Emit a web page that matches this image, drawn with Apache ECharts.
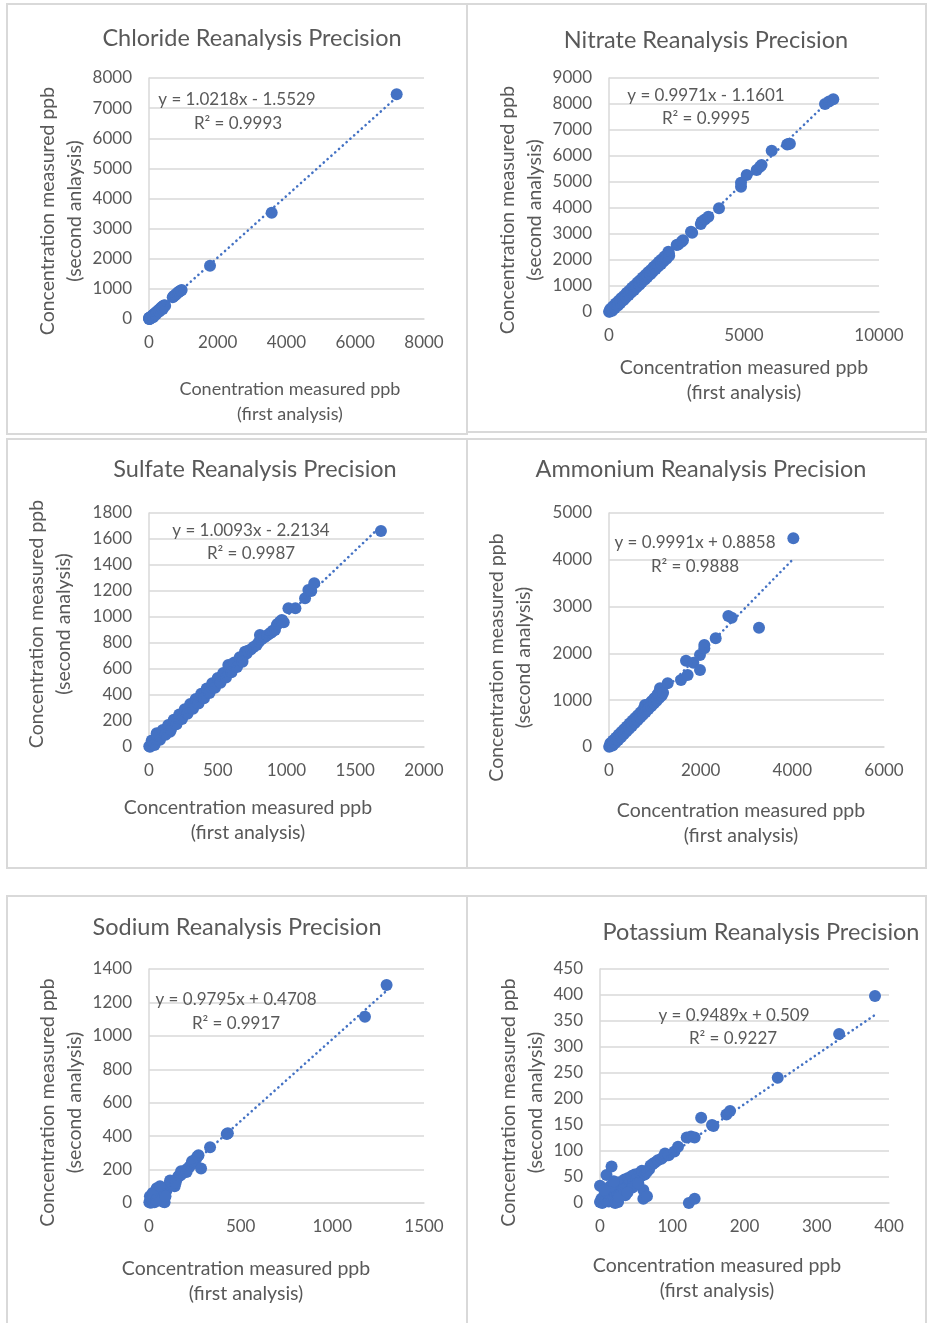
<!DOCTYPE html>
<html>
<head>
<meta charset="utf-8">
<script src="https://cdn.jsdelivr.net/npm/echarts@6/dist/echarts.min.js"></script>
<style>
html,body{margin:0;padding:0;background:#fff;}
#main{width:927px;height:1323px;}
</style>
</head>
<body>
<div id="main"></div>
<script>
// ---------- DATA ----------
const titles = ['Chloride Reanalysis Precision','Nitrate Reanalysis Precision','Sulfate Reanalysis Precision','Ammonium Reanalysis Precision','Sodium Reanalysis Precision','Potassium Reanalysis Precision'];
const equations = ['y = 1.0218x - 1.5529','y = 0.9971x - 1.1601','y = 1.0093x - 2.2134','y = 0.9991x + 0.8858','y = 0.9795x + 0.4708','y = 0.9489x + 0.509'];
const rSquared = ['R² = 0.9993','R² = 0.9995','R² = 0.9987','R² = 0.9888','R² = 0.9917','R² = 0.9227'];
const xNames = ['Conentration measured ppb\n(first analysis)','Concentration measured ppb\n(first analysis)','Concentration measured ppb\n(first analysis)','Concentration measured ppb\n(first analysis)','Concentration measured ppb\n(first analysis)','Concentration measured ppb\n(first analysis)'];
const yNames = ['Concentration measured ppb\n(second anlaysis)','Concentration measured ppb\n(second analysis)','Concentration measured ppb\n(second analysis)','Concentration measured ppb\n(second analysis)','Concentration measured ppb\n(second analysis)','Concentration measured ppb\n(second analysis)'];
const xMax = [8000,10000,2000,6000,1500,400];
const xInterval = [2000,5000,500,2000,500,100];
const yMax = [8000,9000,1800,5000,1400,450];
const yInterval = [1000,1000,200,1000,200,50];

const chloridePoints = [[5,3],[10,12],[15,8],[20,22],[25,20],[30,35],[40,38],[50,48],[60,65],[70,70],[80,85],[90,88],[100,105],[110,112],[120,118],[130,138],[140,142],[150,155],[165,170],[180,182],[200,205],[215,220],[230,238],[250,255],[270,272],[290,300],[310,315],[330,340],[350,360],[370,380],[390,405],[410,420],[430,440],[450,460],[470,440],[2,30],[8,45],[35,10],[45,60],[120,60],[200,150],[300,250],[400,330],[690,720],[720,760],[760,790],[800,840],[850,880],[880,910],[920,940],[950,960],[1775,1770],[3569,3529],[7205,7459]];
const chlorideTrend = [[0,-1.6],[7205,7360]];

const nitratePoints = [[5,8],[20,15],[40,45],[60,55],[80,85],[100,98],[130,135],[160,150],[190,195],[220,215],[250,260],[280,270],[310,318],[340,330],[370,378],[400,395],[430,440],[460,455],[500,505],[540,530],[580,590],[620,610],[660,668],[700,690],[740,752],[780,770],[820,830],[860,850],[900,912],[940,930],[980,995],[1020,1010],[1060,1070],[1100,1090],[1140,1155],[1180,1170],[1220,1230],[1260,1250],[1300,1310],[1340,1330],[1380,1395],[1420,1410],[1460,1470],[1500,1490],[1540,1555],[1580,1570],[1620,1630],[1660,1650],[1700,1710],[1740,1730],[1780,1795],[1820,1810],[1860,1870],[1900,1890],[1940,1955],[1980,1970],[2020,2040],[2060,2050],[2100,2130],[2150,2160],[2198,2320],[2220,2250],
  [50,120],[150,220],[250,330],[350,420],[450,530],[550,620],[650,730],[750,820],[850,930],[950,1020],[1050,1130],[1150,1220],[1250,1330],[1350,1420],[1450,1530],[1550,1620],[1650,1730],[1750,1820],[1850,1930],[1950,2020],[2050,2130],
  [120,50],[220,150],[330,250],[420,350],[530,450],[620,550],[730,650],[820,750],[930,850],[1020,950],[1130,1050],[1220,1150],[1330,1250],[1420,1350],[1530,1450],[1620,1550],[1730,1650],[1820,1750],[1930,1850],[2020,1950],[2130,2050],[2230,2160],
  [2506,2577],[2560,2600],[2691,2705],[2740,2760],[3037,3090],[3080,3050],[3432,3474],[3400,3380],[3550,3560],[3679,3667],[4074,3988],[4889,4820],[4889,4974],[5099,5269],[5469,5462],[5593,5590],[5650,5650],[6025,6204],[6600,6440],[6641,6462],[6700,6470],[8000,8000],[8150,8100],[8307,8181]];
const nitrateTrend = [[0,-1.2],[8307,8282]];

const sulfatePoints = [[2,5],[8,2],[15,20],[25,22],[35,40],[45,42],[55,60],[56,105],[70,75],[80,82],[90,95],[100,98],[110,115],[120,118],[135,138],[150,145],[153,118],[170,175],[185,182],[200,205],[215,212],[230,238],[245,240],[260,270],[275,272],[290,300],[305,302],[320,330],[335,332],[350,360],[365,362],[380,392],[395,390],[410,420],[425,422],[440,452],[455,450],[470,480],[485,482],[500,510],[515,512],[530,540],[545,542],[560,570],[577,631],[590,588],[605,615],[620,618],[635,645],[650,648],[665,675],[680,678],[698,733],[710,720],
  [20,50],[60,90],[100,130],[140,170],[180,210],[220,250],[260,290],[300,330],[340,370],[380,410],[420,450],[460,490],[500,530],[540,570],[580,610],[620,650],[660,690],
  [40,15],[80,55],[120,95],[160,135],[200,175],[240,215],[280,255],[320,295],[360,335],[400,375],[440,415],[480,455],[520,495],[560,535],[600,575],[640,615],[680,655],
  [720,740],[740,750],[760,770],[783,785],[800,810],[807,862],[820,830],[840,845],[860,860],[880,875],[890,880],[900,895],[916,900],[930,940],[940,950],[955,965],[966,977],[980,960],
  [1014,1067],[1065,1067],[1135,1144],[1159,1208],[1180,1200],[1202,1259],[1687,1662]];
const sulfateTrend = [[0,-2.2],[1687,1700]];

const ammoniumPoints = [[5,3],[15,20],[30,25],[50,55],[70,65],[90,95],[110,105],[135,140],[160,155],[185,190],[210,205],[235,245],[260,255],[290,295],[320,310],[350,360],[380,375],[410,420],[440,430],[470,480],[500,495],[530,545],[560,555],[590,600],[620,610],[650,665],[680,675],[710,725],[740,735],[770,790],[786,897],[800,800],[830,850],[860,845],[890,905],[920,900],[950,980],[980,960],[1010,1040],[1040,1020],
  [30,80],[90,140],[150,200],[210,260],[270,320],[330,380],[390,440],[450,500],[510,560],[570,620],[630,680],[690,740],[750,800],[810,860],[870,920],[930,980],[990,1040],[1050,1100],
  [80,30],[140,90],[200,150],[260,210],[320,270],[380,330],[440,390],[500,450],[560,510],[620,570],[680,630],[740,690],[800,750],[860,810],[920,870],[980,930],[1040,990],[1100,1050],
  [1076,1147],[1113,1254],[1150,1100],[1180,1160],[1280,1362],[1571,1432],[1716,1538],[1680,1845],[1840,1802],[1985,1966],[1985,1645],[2080,2108],[2080,2179],[2328,2322],[2604,2799],[2677,2763],[3273,2550],[4022,4459]];
const ammoniumTrend = [[0,0.9],[4022,4019]];

const sodiumPoints = [[2,5],[5,40],[8,20],[10,2],[15,30],[20,10],[25,45],[30,5],[35,60],[42,88],[45,25],[50,70],[55,40],[60,15],[65,80],[70,50],[75,30],[78,8],[80,60],[85,5],[95,75],[100,95],[110,110],[120,115],[133,107],[130,125],[140,100],[150,140],[160,160],[170,165],[180,175],[190,190],[200,195],[210,205],[220,215],[230,230],[240,240],[255,260],[263,277],[270,285],[284,207],[333,333],[424,413],[430,418],[1178,1115],[1296,1304],
  [20,60],[40,20],[60,100],[90,40],[115,135],[145,120],[175,190],[205,185],[235,250]];
const sodiumTrend = [[0,0.5],[1296,1270]];

const potassiumPoints = [[0,2],[2,8],[3,0],[5,12],[0,33],[8,5],[9,54],[10,20],[12,3],[15,15],[16,70],[18,25],[20,8],[21,0],[22,35],[24,18],[25,2],[27,40],[28,28],[30,22],[32,35],[34,45],[35,15],[37,30],[39,48],[40,38],[42,42],[44,52],[46,40],[48,55],[50,45],[52,50],[55,58],[57,52],[58,62],[60,8],[60,25],[62,55],[65,13],[65,60],[68,65],[70,72],[73,75],[76,78],[80,82],[85,85],[88,89],[90,95],[95,92],[103,99],[108,108],[120,126],[123,0],[126,128],[131,126],[131,8],[140,164],[155,150],[157,148],[175,170],[180,177],[246,241],[331,325],[380.6,398],
  [14,32],[26,12],[33,26],[45,30],[53,38],[6,25],[19,42],[38,20]];
const potassiumTrend = [[0,0.5],[380.6,361.7]];

const allPoints = [chloridePoints,nitratePoints,sulfatePoints,ammoniumPoints,sodiumPoints,potassiumPoints];
const allTrends = [chlorideTrend,nitrateTrend,sulfateTrend,ammoniumTrend,sodiumTrend,potassiumTrend];

// ---------- LAYOUT ----------
const FONT = 'Lato, "Open Sans", sans-serif';
const GREY = '#595959';
const BLUE = '#4472C4';
const grids = [
  {left:149, top:78, width:275, height:241},
  {left:609, top:78, width:270, height:234},
  {left:149, top:513, width:275, height:234},
  {left:609, top:513, width:275, height:234},
  {left:149, top:969, width:275, height:234},
  {left:600, top:969, width:289, height:234}
];
const panels = [
  [7,4,460,430],[467,4,459,428],[7,439,460,429],[467,439,459,429],[7,896,460,460],[467,896,459,460]
];
const titlePos = [[252,40],[706,42],[255,471],[701,471],[237,929],[761,934]];
const eqPos = [[237,100,238,124],[706,96,706,119],[251,531,251,554],[695,543,695,567],[236,1000,236,1024],[734,1016,733,1039]];
const xNameGap = [58,43,48,51,53,50];
const xNameShift = [3.5,0,-38.5,-5.5,-40.5,-27.5];
const yNameGap = [60,60,72,72,60,51];
const yNameShift = [12.5,15,-6,27.5,16.5,16.5];
const xNameSize = [18,19.5,19.5,19.5,19.5,19.5];

const option = {
  animation:false,
  backgroundColor:'#fff',
  title: titles.map((t,i)=>({
    text:t, left:titlePos[i][0], top:titlePos[i][1]-14, textAlign:'center', padding:0,
    textStyle:{fontFamily:FONT, fontSize:23.5, fontWeight:'normal', color:GREY}
  })),
  grid: grids,
  xAxis: grids.map((g,i)=>({
    type:'value', gridIndex:i, min:0, max:xMax[i], interval:xInterval[i],
    name:xNames[i], nameLocation:'middle', nameGap:xNameGap[i],
    nameTextStyle:{fontFamily:FONT, fontSize:xNameSize[i], color:GREY, lineHeight:25, verticalAlign:'top',
      padding: xNameShift[i]>=0 ? [0,0,0,2*xNameShift[i]] : [0,-2*xNameShift[i],0,0]},
    axisLine:{show:true, lineStyle:{color:'#d9d9d9', width:1.5}},
    axisTick:{show:false},
    splitLine:{show:false},
    axisLabel:{fontFamily:FONT, fontSize:17, color:GREY, margin:15, formatter:v=>String(v)}
  })),
  yAxis: grids.map((g,i)=>({
    type:'value', gridIndex:i, min:0, max:yMax[i], interval:yInterval[i],
    name:yNames[i], nameLocation:'middle', nameGap:yNameGap[i], nameRotate:90,
    nameTextStyle:{fontFamily:FONT, fontSize:19.5, color:GREY, lineHeight:27,
      padding: yNameShift[i]>=0 ? [0,2*yNameShift[i],0,0] : [0,0,0,-2*yNameShift[i]]},
    axisLine:{show:true, lineStyle:{color:'#d9d9d9', width:1.5}},
    axisTick:{show:false},
    splitLine:{show:true, lineStyle:{color:'#d9d9d9', width:1.5}},
    axisLabel:{fontFamily:FONT, fontSize:17, color:GREY, margin:17, formatter:v=>String(v)}
  })),
  series: [],
  graphic: []
};

allPoints.forEach((pts,i)=>{
  option.series.push({
    type:'line', xAxisIndex:i, yAxisIndex:i, data:allTrends[i], symbol:'none', z:3,
    lineStyle:{color:BLUE, width:2.6, type:[0.1,5], cap:'round'}, silent:true
  });
  option.series.push({
    type:'scatter', xAxisIndex:i, yAxisIndex:i, data:pts, symbolSize:12, z:2,
    itemStyle:{color:BLUE, opacity:1}
  });
});

panels.forEach(p=>{
  option.graphic.push({type:'rect', shape:{x:p[0],y:p[1],width:p[2],height:p[3]}, style:{fill:'none', stroke:'#d9d9d9', lineWidth:2}, z:-10, silent:true});
});
equations.forEach((e,i)=>{
  option.graphic.push({type:'text', x:eqPos[i][0], y:eqPos[i][1], z:20, style:{text:e, fill:GREY, font:'17px '+FONT, textAlign:'center', textVerticalAlign:'middle'}});
  option.graphic.push({type:'text', x:eqPos[i][2], y:eqPos[i][3], z:20, style:{text:rSquared[i], fill:GREY, font:'17px '+FONT, textAlign:'center', textVerticalAlign:'middle'}});
});

const chart = echarts.init(document.getElementById('main'), null, {renderer:'canvas'});
chart.setOption(option);
</script>
</body>
</html>
